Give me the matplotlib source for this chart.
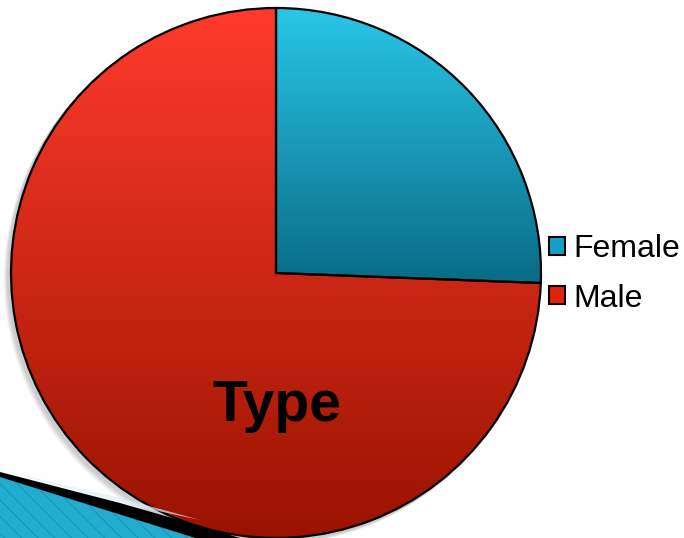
import numpy as np
import matplotlib
matplotlib.use("Agg")
import matplotlib.pyplot as plt
from matplotlib.patches import Patch, Polygon, Circle
from matplotlib.colors import LinearSegmentedColormap

categories = ["Female", "Male"]
values = [25.6, 74.4]
title_text = "Type"

top_colors = ["#2ac6e8", "#ff3b2c"]
bottom_colors = ["#086c86", "#9a1300"]
legend_colors = ["#13a0c4", "#e2230a"]

W, H = 684, 538
fig = plt.figure(figsize=(W / 100, H / 100), dpi=100)
ax = fig.add_axes([0, 0, 1, 1])
ax.set_xlim(0, W)
ax.set_ylim(0, H)
ax.set_aspect("equal")
ax.axis("off")

cx, cy, r = 276, 265, 265

# soft shadow
for i, a in enumerate([0.05, 0.05, 0.05, 0.05]):
    ax.add_patch(Circle((cx - 3 - i, cy - 3 - i), r + 1, facecolor="black",
                        edgecolor="none", alpha=a, zorder=0))

wedges, _ = ax.pie(values, startangle=90, counterclock=False,
                   center=(cx, cy), radius=r, frame=True,
                   wedgeprops=dict(edgecolor="black", linewidth=1.6))
ax.set_xlim(0, W)
ax.set_ylim(0, H)
ax.axis("off")

for w, tc, bc in zip(wedges, top_colors, bottom_colors):
    w.set_facecolor("none")
    w.set_zorder(3)
    bb = w.get_path().get_extents(w.get_transform())
    inv = ax.transData.inverted()
    (x0, y0), (x1, y1) = inv.transform([[bb.x0, bb.y0], [bb.x1, bb.y1]])
    cmap = LinearSegmentedColormap.from_list("g", [bc, tc])
    grad = np.linspace(0, 1, 256).reshape(-1, 1)
    im = ax.imshow(grad, cmap=cmap, origin="lower", aspect="auto",
                   extent=(x0, x1, y0, y1), zorder=2)
    im.set_clip_path(w)

ax.set_xlim(0, W)
ax.set_ylim(0, H)

ax.text(277, H - 406, title_text, fontsize=41, fontweight="bold",
        family="Liberation Sans", ha="center", va="center", zorder=5)

handles = [Patch(facecolor=c, edgecolor="black", linewidth=1.5) for c in legend_colors]
leg = ax.legend(handles, categories, loc="center left",
                bbox_to_anchor=(549 / W, 1 - 274 / H),
                bbox_transform=fig.transFigure, frameon=False,
                prop=dict(family="Liberation Sans", size=23),
                handlelength=0.5, handleheight=0.5, handletextpad=0.25,
                labelspacing=0.6, borderaxespad=0, borderpad=0)

# decorative band bottom-left
def P(pts):
    return [(x, H - y) for x, y in pts]

plt.rcParams["hatch.linewidth"] = 0.7
blue = Polygon(P([(0, 476), (195, 538), (0, 538)]), closed=True,
               facecolor="#22acd0", edgecolor="#1a93b5", hatch="\\\\",
               linewidth=0, zorder=6)
ax.add_patch(blue)
hl = Polygon(P([(0, 470), (120, 498), (200, 520), (130, 505)]), closed=True,
             facecolor="#d8eef5", edgecolor="none", alpha=0.7, zorder=5)
ax.add_patch(hl)
black = Polygon(P([(0, 472), (120, 503), (200, 526), (240, 538),
                   (195, 538), (0, 477)]), closed=True,
                facecolor="black", edgecolor="none", zorder=7)
ax.add_patch(black)

fig.savefig("out.png", dpi=100)
